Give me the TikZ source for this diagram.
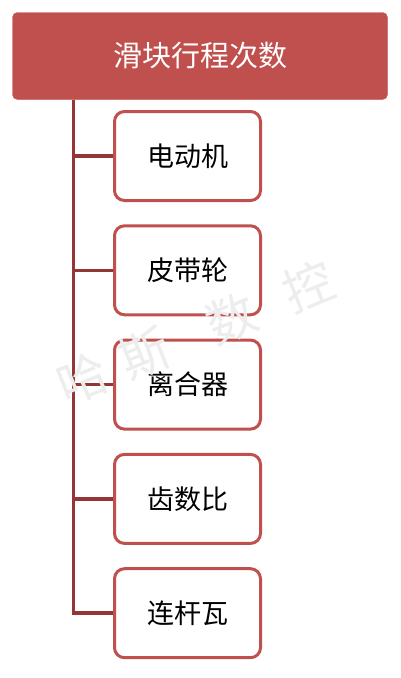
\documentclass[tikz,border=0pt]{standalone}
\usepackage{fontspec}
\newfontfamily\cjk{Noto Sans CJK SC}
\usetikzlibrary{positioning}
\definecolor{boxred}{HTML}{C0504D}
\definecolor{linered}{HTML}{943634}

\begin{document}
\begin{tikzpicture}[
    x=1pt, y=1pt,
    title/.style={rectangle, draw=boxred, fill=boxred, rounded corners=5pt, minimum width=375pt, minimum height=87pt, text=white, font=\cjk\fontsize{29}{29}\selectfont},
    item/.style={rectangle, draw=boxred, line width=3pt, fill=white, rounded corners=10pt, minimum width=146pt, minimum height=89pt, font=\cjk\fontsize{27}{27}\selectfont},
    branch/.style={draw=linered, line width=3.5pt},
    mark text/.style={text=black!7, font=\cjk\fontsize{50}{50}\selectfont},
    node distance=22.3pt
]
\useasboundingbox (0,0) rectangle (400,-678);
\node[title] (top) at (200,-56) {滑块行程次数};
\node[item] (motor) at (187.5,-156) {电动机};
\node[item, below=of motor] (belt) {皮带轮};
\node[item, below=of belt] (clutch) {离合器};
\node[item, below=of clutch] (gear) {齿数比};
\node[item, below=of gear] (rod) {连杆瓦};
\coordinate (trunk) at ([xshift=61pt]top.south west);

% trunk and branches
\foreach \n in {motor, belt, clutch, gear, rod}
    \draw[branch] (trunk) |- (\n.west);

% watermark
\node[mark text, rotate=22] (wm) at (196,-333) {哈\hspace{17pt}斯\hspace{43pt}数\hspace{34pt}控};
\end{tikzpicture}
\end{document}
